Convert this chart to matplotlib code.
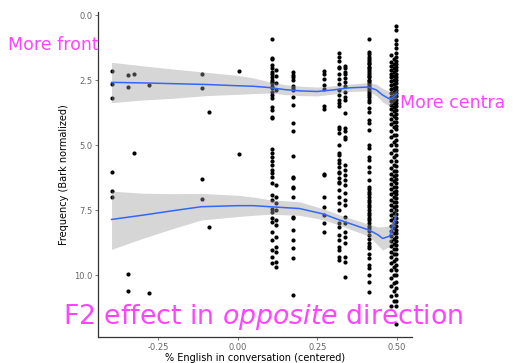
import numpy as np
import matplotlib
matplotlib.use('Agg')
import matplotlib.pyplot as plt

### DATA ###
# % English in conversation (centered) for each speaker column
speaker_x = [-0.395, -0.345, -0.326, -0.277, -0.113, -0.088, 0.004,
             0.107, 0.119, 0.173, 0.270, 0.319, 0.3375, 0.4125,
             0.481, 0.489, 0.497]

# formant values (Bark normalized) measured for each speaker column
speaker_freq = [
	[2.17, 2.65, 3.2, 6.05, 6.76, 7.0],
	[2.32, 2.76, 9.96, 10.6],
	[2.26, 5.32],
	[2.68, 10.68],
	[2.27, 2.82, 6.32, 7.07],
	[3.74, 8.14],
	[2.17, 5.35],
	[0.92, 1.67, 1.7, 1.92, 2.05, 2.18, 2.27, 2.4, 2.5, 2.56, 2.63, 2.73, 2.82, 2.95, 3.08,
	 3.2, 3.53, 3.65, 3.91, 3.97, 5.17, 5.32, 5.45, 5.6, 5.77, 5.96, 6.09, 6.22, 6.47, 6.92,
	 7.12, 7.44, 7.57, 7.82, 7.95, 8.33, 8.65, 9.04, 9.3, 9.55],
	[2.1, 2.35, 2.6, 2.9, 6.54, 6.99, 7.24, 7.5, 7.88, 8.08, 8.53, 8.91, 9.1, 9.49, 9.68],
	[2.18, 2.31, 2.4, 2.5, 2.73, 2.82, 2.88, 3.14, 3.46, 4.17, 4.45, 5.42, 6.22, 6.28, 6.6,
	 6.67, 6.99, 7.76, 7.82, 8.27, 8.65, 8.97, 9.36, 10.77],
	[2.14, 2.27, 2.47, 2.69, 2.86, 3.5, 3.63, 6.12, 6.15, 6.99, 7.37, 7.69, 8.01, 8.33],
	[1.45, 1.63, 1.76, 1.99, 2.05, 2.27, 2.47, 2.65, 2.88, 3.08, 3.27, 3.4, 3.5, 4.3, 4.4,
	 4.55, 5.0, 5.32, 5.38, 5.58, 5.7, 5.83, 6.03, 6.09, 6.28, 6.41, 6.47, 6.73, 6.99, 7.24,
	 7.5, 8.01, 8.14, 8.46, 8.65, 8.91, 9.04, 9.3, 9.42],
	[1.96, 2.05, 2.18, 2.27, 2.44, 2.56, 2.73, 2.95, 3.14, 3.27, 3.76, 4.36, 4.45, 4.68, 4.78,
	 5.77, 5.96, 6.15, 6.35, 6.54, 6.86, 7.12, 7.31, 7.76, 8.01, 8.33, 8.53, 8.78, 9.3, 9.49,
	 10.06],
	[0.94, 1.41, 1.5, 1.6, 1.68, 1.75, 1.83, 1.9, 1.98, 2.05, 2.12, 2.2, 2.27, 2.33, 2.4,
	 2.48, 2.55, 2.62, 2.7, 2.78, 2.85, 2.93, 3.0, 3.08, 3.16, 3.25, 3.33, 3.59, 3.72, 4.04,
	 4.17, 4.42, 5.0, 5.13, 5.47, 5.58, 5.83, 6.03, 6.35, 6.6, 6.7, 6.8, 6.9, 7.0, 7.1,
	 7.2, 7.3, 7.4, 7.5, 7.6, 7.7, 7.8, 7.9, 8.0, 8.1, 8.2, 8.3, 8.45, 8.6, 8.75,
	 8.9, 8.97, 9.17, 9.36, 9.62, 9.74, 10.0, 10.26, 10.64],
	[1.55, 1.8, 1.95, 2.1, 2.25, 2.4, 2.55, 2.7, 2.85, 3.0, 3.15, 3.3, 3.45, 3.6, 3.8,
	 4.0, 4.2, 4.45, 4.7, 5.0, 5.3, 5.6, 5.9, 6.1, 6.3, 6.5, 6.7, 6.9, 7.1, 7.3,
	 7.5, 7.7, 7.9, 8.1, 8.3, 8.5, 8.7, 8.9, 9.1, 9.3, 9.55, 9.8, 10.1, 10.4, 10.8, 11.2],
	[1.7, 1.9, 2.05, 2.2, 2.35, 2.5, 2.65, 2.8, 2.95, 3.1, 3.25, 3.4, 3.55, 3.7, 3.9,
	 4.1, 4.3, 4.6, 4.9, 5.2, 5.45, 5.75, 6.0, 6.2, 6.4, 6.6, 6.8, 7.0, 7.2, 7.4,
	 7.6, 7.8, 8.0, 8.2, 8.4, 8.6, 8.8, 9.0, 9.2, 9.45, 9.7, 10.0, 10.3, 10.6, 11.0],
	[0.42, 0.58, 0.96, 1.1, 1.25, 1.46, 1.6, 1.75, 1.88, 2.0, 2.12, 2.25, 2.38, 2.5, 2.62,
	 2.75, 2.88, 3.0, 3.12, 3.25, 3.38, 3.5, 3.65, 3.8, 3.95, 4.1, 4.25, 4.4, 4.6, 4.8,
	 5.0, 5.2, 5.4, 5.6, 5.8, 6.0, 6.15, 6.3, 6.45, 6.6, 6.75, 6.9, 7.05, 7.2, 7.35,
	 7.5, 7.65, 7.8, 7.95, 8.1, 8.25, 8.4, 8.55, 8.7, 8.85, 9.0, 9.2, 9.4, 9.6, 9.8,
	 10.0, 10.25, 10.5, 10.75, 11.0, 11.2, 11.88],
]

# loess smooth for F1 (upper) with confidence band
f1_x     = [-0.395, -0.3, -0.2, -0.1, 0.0, 0.05, 0.1, 0.15, 0.2, 0.25, 0.3, 0.35, 0.41, 0.435, 0.455, 0.477, 0.49, 0.5]
f1_fit   = [2.59, 2.61, 2.64, 2.67, 2.72, 2.74, 2.79, 2.87, 2.92, 2.94, 2.88, 2.80, 2.77, 2.88, 3.08, 3.23, 3.15, 3.03]
f1_lower = [1.82, 1.95, 2.08, 2.20, 2.32, 2.42, 2.57, 2.68, 2.74, 2.77, 2.72, 2.66, 2.60, 2.66, 2.82, 2.95, 2.95, 2.85]
f1_upper = [3.37, 3.27, 3.20, 3.10, 3.05, 3.02, 3.00, 3.06, 3.10, 3.11, 3.04, 2.94, 2.92, 3.10, 3.35, 3.50, 3.35, 3.22]

# loess smooth for F2 (lower) with confidence band
f2_x     = [-0.395, -0.3, -0.2, -0.113, 0.0, 0.05, 0.1, 0.194, 0.269, 0.319, 0.3625, 0.4125, 0.44, 0.455, 0.477, 0.487, 0.497]
f2_fit   = [7.86, 7.70, 7.52, 7.37, 7.33, 7.33, 7.37, 7.44, 7.65, 7.88, 8.06, 8.27, 8.45, 8.59, 8.50, 8.14, 7.73]
f2_lower = [6.77, 6.85, 6.87, 6.86, 6.93, 7.00, 7.10, 7.18, 7.45, 7.68, 7.85, 8.05, 8.15, 8.14, 8.10, 7.85, 7.40]
f2_upper = [9.01, 8.60, 8.20, 7.88, 7.75, 7.70, 7.66, 7.70, 7.87, 8.08, 8.28, 8.50, 8.85, 9.04, 8.90, 8.45, 8.05]

x_ticks = [-0.25, 0.00, 0.25, 0.50]
y_ticks = [0.0, 2.5, 5.0, 7.5, 10.0]

### PLOT ###
fig = plt.figure(figsize=(5.18, 3.63), dpi=100)
ax = fig.add_axes([0.1892, 0.0716, 0.6062, 0.8953])

pts_x = np.concatenate([np.full(len(v), x) for x, v in zip(speaker_x, speaker_freq)])
pts_y = np.concatenate([np.array(v) for v in speaker_freq])
ax.scatter(pts_x, pts_y, s=9, color='black', linewidths=0, zorder=2)

for xs, fit, lo, hi in [(f1_x, f1_fit, f1_lower, f1_upper), (f2_x, f2_fit, f2_lower, f2_upper)]:
	ax.fill_between(xs, lo, hi, color='#999999', alpha=0.4, linewidth=0, zorder=3)
	ax.plot(xs, fit, color='#3366FF', linewidth=1.1, zorder=4)

ax.set_xlim(-0.4375, 0.547)
ax.set_ylim(12.38, -0.115)
ax.set_xticks(x_ticks)
ax.set_xticklabels(['-0.25', '0.00', '0.25', '0.50'])
ax.set_yticks(y_ticks)
ax.set_yticklabels(['0.0', '2.5', '5.0', '7.5', '10.0'])
ax.tick_params(colors='#666666', labelsize=6, length=2.5, width=0.6, pad=1.5)
for side in ['top', 'right']:
	ax.spines[side].set_visible(False)
for side in ['left', 'bottom']:
	ax.spines[side].set_color('#333333')
	ax.spines[side].set_linewidth(0.9)

ax.set_xlabel('% English in conversation (centered)', fontsize=7, labelpad=1)
ax.set_ylabel('Frequency (Bark normalized)', fontsize=7, labelpad=4)

# slide annotations
pink = '#ff44ff'
fig.text(8/518, 1 - 50/363, 'More front', color=pink, fontsize=12.5, va='baseline', ha='left')
fig.text(400/518, 1 - 108/363, 'More centra', color=pink, fontsize=12.5, va='baseline', ha='left')
fig.text(63/518, 1 - 324/363, 'F2 effect in $\\it{opposite}$ direction', color=pink,
         fontsize=19.3, va='baseline', ha='left')

fig.savefig('out.png', dpi=100)
